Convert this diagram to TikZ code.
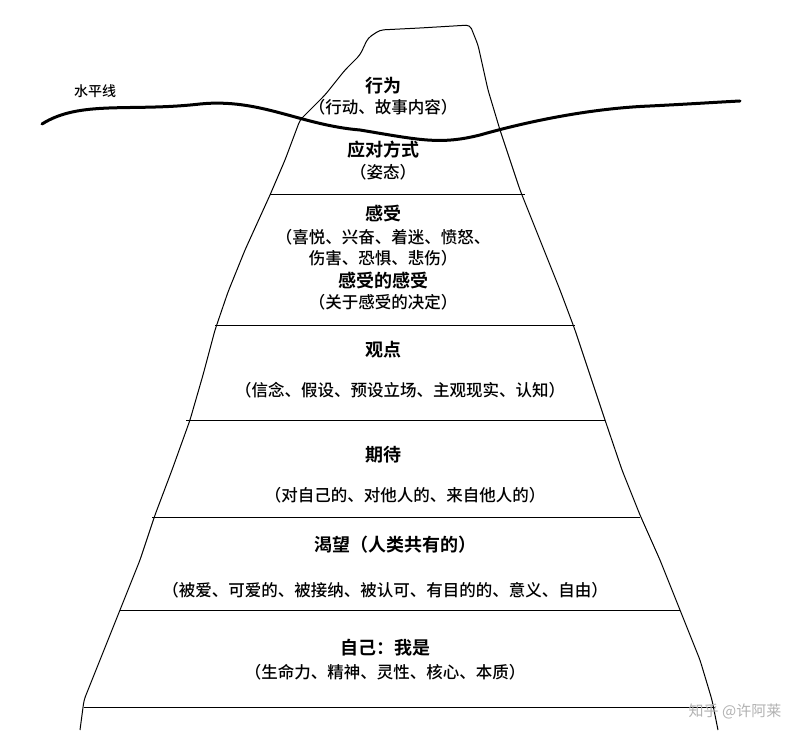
\documentclass[tikz,border=0pt]{standalone}
\usepackage{fontspec}
\setmainfont{Noto Sans CJK SC}
\newfontfamily\cjkb{Noto Sans CJK SC Bold}
\newfontfamily\cjkm{Noto Sans CJK SC Medium}
\begin{document}
\begin{tikzpicture}[x=1pt,y=-1pt,
  ttl/.style={font=\cjkb\fontsize{18}{20}\selectfont},
  sub/.style={font=\cjkm\fontsize{16.5}{18}\selectfont},
  edge/.style={line width=1pt,line join=round}]
\useasboundingbox (0,0) rectangle (803,743);
\fill[white] (0,0) rectangle (803,743);
% iceberg outline
\draw[edge,rounded corners=4pt] (80,730) -- (84,700) -- (100,660) -- (120,610) -- (140,560) -- (155,515) -- (172,470) -- (190,420) -- (203,375) -- (215,330) -- (228,292) -- (245,250) -- (270,195) -- (285,160) -- (300,120) -- (325,95) -- (345,70) -- (360,55) -- (368,38) -- (380,30) -- (420,28) -- (470,25) -- (478,45) -- (488,90) -- (500,130) -- (520,190) -- (540,240) -- (560,290) -- (575,330) -- (590,375) -- (605,420) -- (622,470) -- (640,515) -- (660,560) -- (680,610) -- (700,660) -- (712,700) -- (718,730);
% layer lines
\draw[edge] (270,195) -- (525,195);
\draw[edge] (215,325) -- (575,325);
\draw[edge] (186,420) -- (605,420);
\draw[edge] (152,517) -- (640,517);
\draw[edge] (120,610) -- (680,610);
\draw[edge] (84,707) -- (715,707);
% water line
\draw[line width=3pt,line cap=round] (42,124) .. controls (80,100) and (130,112) .. (200,104) .. controls (260,98) and (300,125) .. (360,130) .. controls (420,140) and (440,145) .. (480,135) .. controls (540,118) and (600,108) .. (650,106) .. controls (690,104) and (720,102) .. (740,101);
\node[font=\cjkm\fontsize{14}{16}\selectfont] (w) at (95,91) {水平线};
\node[ttl] (a1) at (383,86) {行为};
\node[sub] (a2) at (383,107) {（行动、故事内容）};
\node[ttl] (b1) at (383,150) {应对方式};
\node[sub] (b2) at (383,172) {（姿态）};
\node[ttl] (c1) at (383,214) {感受};
\node[sub] (c2) at (383,237) {（喜悦、兴奋、着迷、愤怒、};
\node[sub] (c3) at (383,258) {伤害、恐惧、悲伤）};
\node[ttl] (c4) at (383,281) {感受的感受};
\node[sub] (c5) at (383,302) {（关于感受的决定）};
\node[ttl] (d1) at (383,350) {观点};
\node[sub] (d2) at (400,390) {（信念、假设、预设立场、主观现实、认知）};
\node[ttl] (e1) at (383,455) {期待};
\node[sub] (e2) at (405,495) {（对自己的、对他人的、来自他人的）};
\node[ttl] (f1) at (395,545) {渴望（人类共有的）};
\node[sub] (f2) at (385,590) {（被爱、可爱的、被接纳、被认可、有目的的、意义、自由）};
\node[ttl] (g1) at (385,648) {自己：我是};
\node[sub] (g2) at (385,672) {（生命力、精神、灵性、核心、本质）};
\node[font=\fontsize{15}{17}\selectfont,text=gray!60] (wm) at (735,711) {知乎 @许阿莱};
\end{tikzpicture}
\end{document}
